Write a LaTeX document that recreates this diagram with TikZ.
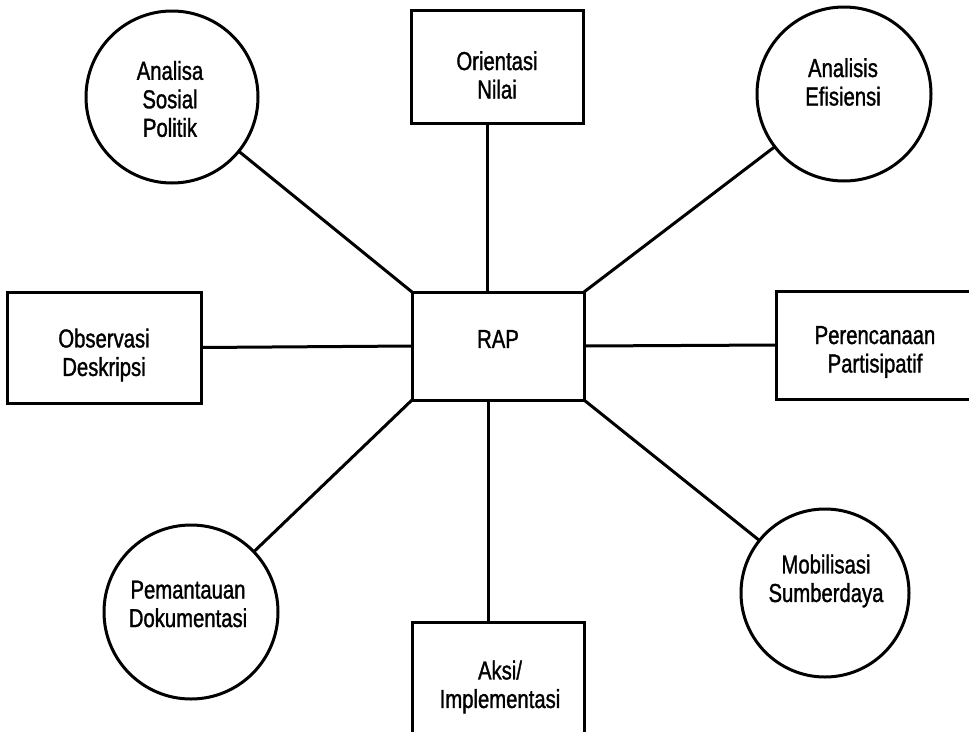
\documentclass[tikz,border=0pt]{standalone}
\usepackage{fontspec}
\setmainfont{Liberation Sans}[FakeStretch=0.78,FakeBold=1.2]
\begin{document}
\begin{tikzpicture}[x=1pt,y=-1pt,
  shapebox/.style={draw=black,line width=3pt,rectangle,inner sep=0pt,outer sep=0pt},
  shapecirc/.style={draw=black,line width=3pt,circle,inner sep=0pt,outer sep=0pt},
  lbl/.style={align=center,inner sep=0pt,font=\fontsize{26}{28.5}\selectfont},
  conn/.style={line width=3pt}]
\useasboundingbox (0,0) rectangle (969,731);
\clip (0,0) rectangle (969,731);
\fill[white] (0,0) rectangle (969,731);
% shapes
\node[shapebox,minimum width=172pt,minimum height=113pt] (orient) at (497,66.5) {};
\node[shapebox,minimum width=172pt,minimum height=108pt] (rap) at (498,346) {};
\node[shapebox,minimum width=194pt,minimum height=111pt] (obs) at (104,347.5) {};
\node[shapebox,minimum width=210pt,minimum height=108pt] (per) at (881,345) {};
\node[shapebox,minimum width=172pt,minimum height=124pt] (aksi) at (498,684) {};
\node[shapecirc,minimum size=172pt] (anasos) at (172,97) {};
\node[shapecirc,minimum size=174pt] (anef) at (844,94) {};
\node[shapecirc,minimum size=174pt] (pem) at (191,612) {};
\node[shapecirc,minimum size=168pt] (mob) at (825,593) {};
% texts
\node[lbl] (t-orient) at (497,75) {Orientasi\\Nilai};
\node[lbl] (t-rap) at (498,339) {RAP};
\node[lbl] (t-obs) at (104,355) {Observasi\\Deskripsi};
\node[lbl] (t-per) at (875,352) {Perencanaan\\Partisipatif};
\node[lbl] (t-aksi) at (500,687) {Aksi/\\Implementasi};
\node[lbl] (t-anasos) at (170,99) {Analisa\\Sosial\\Politik};
\node[lbl] (t-anef) at (843,82) {Analisis\\Efisiensi};
\node[lbl] (t-pem) at (188,604) {Pemantauan\\Dokumentasi};
\node[lbl] (t-mob) at (826,581) {Mobilisasi\\Sumberdaya};
% connectors
\draw[conn] ([xshift=-10pt]orient.south) -- ([xshift=-11pt]rap.north);
\draw[conn] ([xshift=-10pt]rap.south) -- ([xshift=-10pt]aksi.north);
\draw[conn] (obs.east) -- (rap.west);
\draw[conn] (rap.east) -- (per.west);
\draw[conn] (anasos) -- (rap.north west);
\draw[conn] (anef) -- (rap.north east);
\draw[conn] (pem) -- (rap.south west);
\draw[conn] (mob) -- (rap.south east);
\end{tikzpicture}
\end{document}
